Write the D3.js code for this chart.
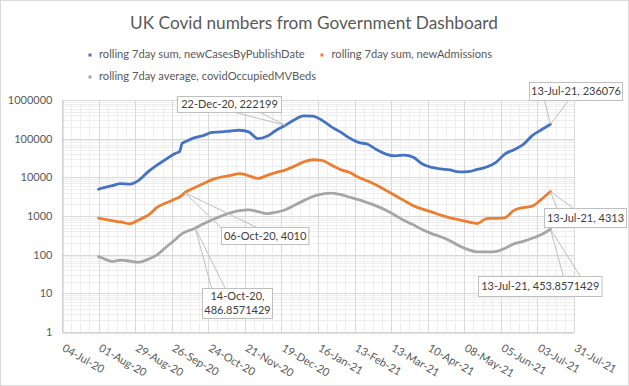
<!DOCTYPE html>
<html><head><meta charset="utf-8">
<script src="https://cdn.jsdelivr.net/npm/d3@7"></script>
<style>
body{margin:0;background:#fff;}
svg{display:block;font-family:Lato,'Open Sans',sans-serif;}
</style>
</head><body>
<svg id="chart" width="629" height="386"></svg>
<script>
// ---------- DATA ----------
const dates = ["2020-08-01","2020-08-04","2020-08-11","2020-08-18","2020-08-25","2020-09-01","2020-09-08","2020-09-15","2020-09-22","2020-09-29","2020-10-02","2020-10-04","2020-10-06","2020-10-13","2020-10-20","2020-10-27","2020-11-03","2020-11-10","2020-11-17","2020-11-24","2020-12-01","2020-12-08","2020-12-15","2020-12-22","2020-12-29","2021-01-05","2021-01-12","2021-01-19","2021-01-26","2021-02-02","2021-02-09","2021-02-16","2021-02-23","2021-03-02","2021-03-09","2021-03-16","2021-03-23","2021-03-30","2021-04-06","2021-04-13","2021-04-20","2021-04-27","2021-05-04","2021-05-11","2021-05-18","2021-05-25","2021-06-01","2021-06-08","2021-06-15","2021-06-22","2021-06-29","2021-07-06","2021-07-13"];
const casesSum = [4930,5300,6000,6900,6700,8500,14000,21000,30000,42000,46000,76000,82000,105000,120000,146000,150000,158000,165000,150000,100000,115000,165000,222199,310000,390000,385000,300000,205000,150000,105000,80000,72000,52000,40000,36000,37500,33000,22000,18000,16500,15500,13800,14000,16000,18500,24000,40000,52000,70000,120000,170000,236076];
const admissionsSum = [877,840,760,700,630,800,1050,1700,2200,2800,3100,3500,4010,5300,6800,8700,10200,11200,12500,11000,9400,11200,13500,15500,19500,25000,28500,27500,21000,16000,13500,10000,8000,6200,4600,3400,2500,1850,1500,1280,1050,900,800,700,640,860,870,900,1400,1650,1800,2700,4313];
const mvBedsAvg = [89,82,67,72,68,64,76,100,160,250,310,350,380,470,620,800,1000,1200,1370,1440,1300,1150,1250,1450,1900,2500,3200,3700,3900,3600,3100,2650,2200,1800,1400,1050,760,590,440,350,290,230,170,135,118,118,120,145,190,220,265,330,453.8571429];
const seriesNames = ["rolling 7day sum, newCasesByPublishDate","rolling 7day sum, newAdmissions","rolling 7day average, covidOccupiedMVBeds"];
const seriesColors = ["#4472C4","#ED7D31","#A5A5A5"];
const xTickDates = ["2020-07-04","2020-08-01","2020-08-29","2020-09-26","2020-10-24","2020-11-21","2020-12-19","2021-01-16","2021-02-13","2021-03-13","2021-04-10","2021-05-08","2021-06-05","2021-07-03","2021-07-31"];
const yTickValues = [1,10,100,1000,10000,100000,1000000];
const annDates  = ["2020-12-22","2021-07-13","2021-07-13","2021-07-13","2020-10-06","2020-10-14"];
const annValues = [222199,236076,4313,453.8571429,4010,486.8571429];
const annLabels = [["22-Dec-20, 222199"],["13-Jul-21, 236076"],["13-Jul-21, 4313"],["13-Jul-21, 453.8571429"],["06-Oct-20, 4010"],["14-Oct-20,","486.8571429"]];
const titleText = "UK Covid numbers from Government Dashboard";

(function () {
const parse = d3.utcParse("%Y-%m-%d");
const fmt = d3.utcFormat("%d-%b-%y");
const svg = d3.select("#chart");
const W = 629, H = 386;
const pL = 62, pR = 574, pT = 100, pB = 332;
const textCol = "#595959";

svg.append("rect").attr("x",0.5).attr("y",0.5).attr("width",W-1).attr("height",H-1)
  .attr("fill","#fff").attr("stroke","#d9d9d9");

const xTicks = xTickDates.map(parse);
const x = d3.scaleUtc().domain([xTicks[0], xTicks[xTicks.length-1]]).range([pL, pR]);
const y = d3.scaleLog().domain([1, 1e6]).range([pB, pT]);
const snap = v => Math.round(v) + 0.5;

// minor grid
const g = svg.append("g");
const minorY = [];
for (let e = 0; e < 6; e++) for (let k = 2; k <= 9; k++) minorY.push(k * Math.pow(10, e));
g.selectAll(".hmin").data(minorY).join("line")
  .attr("x1", pL).attr("x2", pR)
  .attr("y1", d => snap(y(d))).attr("y2", d => snap(y(d)))
  .attr("stroke", "#eeeeee");
const minorX = d3.range(0, 393, 7).map(d => d3.utcDay.offset(xTicks[0], d));
g.selectAll(".vmin").data(minorX).join("line")
  .attr("y1", pT).attr("y2", pB)
  .attr("x1", d => snap(x(d))).attr("x2", d => snap(x(d)))
  .attr("stroke", "#eeeeee");
// major grid
g.selectAll(".hmaj").data(yTickValues).join("line")
  .attr("x1", pL).attr("x2", pR)
  .attr("y1", d => snap(y(d))).attr("y2", d => snap(y(d)))
  .attr("stroke", "#d9d9d9");
g.selectAll(".vmaj").data(xTicks).join("line")
  .attr("y1", pT).attr("y2", pB)
  .attr("x1", d => snap(x(d))).attr("x2", d => snap(x(d)))
  .attr("stroke", "#d9d9d9");

// axes
const yAxis = svg.append("g").attr("transform", `translate(${snap(pL)},0)`)
  .call(d3.axisLeft(y).tickValues(yTickValues).tickFormat(d3.format("d")).tickSize(0).tickPadding(10));
yAxis.select(".domain").attr("stroke", "#c8c8c8");
yAxis.selectAll("text").attr("fill", textCol).attr("font-size", 11).attr("font-family", "Lato,'Open Sans',sans-serif");

const xAxis = svg.append("g").attr("transform", `translate(0,${snap(pB)})`)
  .call(d3.axisBottom(x).tickValues(xTicks).tickFormat(fmt).tickSize(0));
xAxis.select(".domain").attr("stroke", "#c8c8c8");
xAxis.selectAll(".tick text")
  .attr("fill", textCol).attr("font-size", 11).attr("font-family", "Lato,'Open Sans',sans-serif")
  .attr("text-anchor", "start")
  .attr("x", 0).attr("y", 0).attr("dy", "0.72em")
  .attr("transform", "translate(3,11) rotate(30)");

// series
const series = [casesSum, admissionsSum, mvBedsAvg];
const line = d3.line().x(d => x(d[0])).y(d => y(d[1])).curve(d3.curveMonotoneX);
series.forEach((vals, i) => {
  const pts = dates.map((d, j) => [parse(d), vals[j]]);
  svg.append("path").datum(pts).attr("d", line)
    .attr("fill", "none").attr("stroke", seriesColors[i])
    .attr("stroke-width", 2.8).attr("stroke-linejoin", "round").attr("stroke-linecap", "round");
});

// annotations (box offsets relative to labelled point)
const annLayout = [
  {bx:-108.7, by:-29, w:104, h:16, edge:"bottom", b1:-50, b2:-25},
  {bx:-21.2, by:-42.5, w:93, h:18, edge:"bottom", b1:-6, b2:18},
  {bx:-6.2, by:16.5, w:82, h:19, edge:"top", b1:6.5, b2:23},
  {bx:-72.5, by:46.6, w:123.5, h:20, edge:"top", b1:13, b2:30},
  {bx:36.1, by:34.5, w:87.3, h:17, edge:"top", b1:36.1, b2:72},
  {bx:6.5, by:59.5, w:70, h:30, edge:"top", b1:16.5, b2:30}
];
const annG = svg.append("g");
annDates.forEach((d, i) => {
  const px = x(parse(d)), py = y(annValues[i]);
  const L = annLayout[i];
  const bx = Math.round(px + L.bx) + 0.5, by = Math.round(py + L.by) + 0.5;
  const ey = L.edge === "bottom" ? by + L.h : by;
  annG.append("path")
    .attr("d", `M${px + L.b1},${ey}L${px},${py}L${px + L.b2},${ey}`)
    .attr("fill", "none").attr("stroke", "#bfbfbf");
  annG.append("rect").attr("x", bx).attr("y", by).attr("width", L.w).attr("height", L.h)
    .attr("fill", "#fff").attr("stroke", "#bfbfbf");
  const lines = annLabels[i];
  const t = annG.append("text").attr("text-anchor", "middle").attr("fill", "#404040")
    .attr("font-size", 11);
  lines.forEach((s, k) => {
    t.append("tspan").attr("x", bx + L.w / 2)
      .attr("y", by + L.h / 2 + (k - (lines.length - 1) / 2) * 14)
      .attr("dy", "0.36em").text(s);
  });
});

// title
const title = svg.append("text").attr("x", 314).attr("y", 29).attr("text-anchor", "middle")
  .attr("fill", textCol).attr("font-size", 18).text(titleText);
{
  const w = title.node().getComputedTextLength();
  title.attr("font-size", 18 * 368 / w);
}

// legend
const legPos = [{mx:90, ty:58, tx:99, tw:205}, {mx:322, ty:58, tx:331.5, tw:162}, {mx:90, ty:80, tx:99, tw:217}];
const legTexts = [];
seriesNames.forEach((n, i) => {
  const p = legPos[i];
  svg.append("rect").attr("x", p.mx - 1.5).attr("y", p.ty - 4.5).attr("width", 3).attr("height", 3)
    .attr("fill", seriesColors[i]);
  legTexts.push(svg.append("text").attr("x", p.tx).attr("y", p.ty).attr("fill", textCol)
    .attr("font-size", 12).text(n));
});
{
  let ratio = 0;
  legTexts.forEach((t, i) => { ratio += legPos[i].tw / t.node().getComputedTextLength(); });
  ratio /= legTexts.length;
  legTexts.forEach(t => t.attr("font-size", 12 * ratio));
}
})();
</script>
</body></html>
